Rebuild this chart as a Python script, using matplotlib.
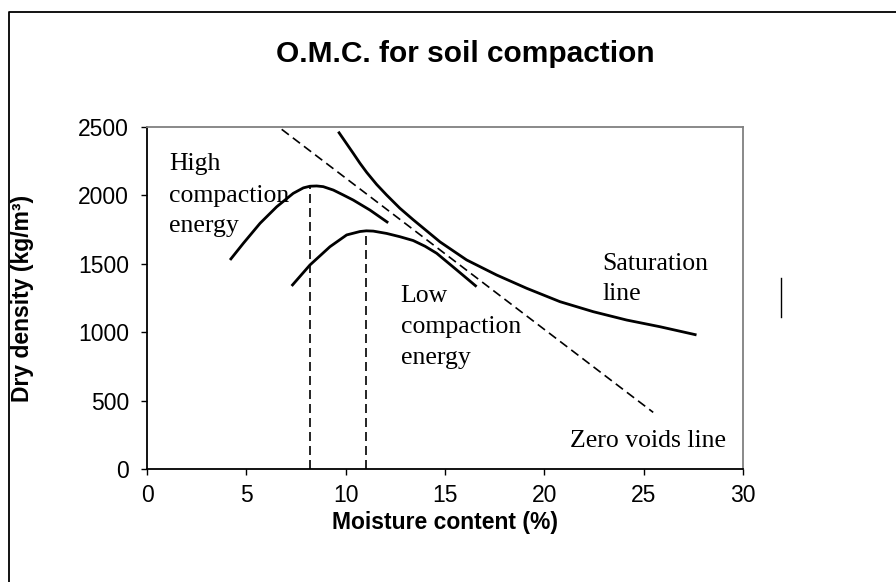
import matplotlib
matplotlib.use("Agg")
import matplotlib.pyplot as plt
from matplotlib.lines import Line2D

# ---- data ----
high_x = [4.18, 4.85, 5.69, 6.53, 7.36, 7.87, 8.20, 8.54, 8.87, 9.38, 9.88, 10.38, 11.22, 12.14]
high_y = [1528, 1650, 1796, 1917, 2015, 2055, 2067, 2069, 2064, 2039, 2003, 1966, 1893, 1800]

low_x = [7.28, 8.20, 9.21, 10.05, 10.72, 11.04, 11.39, 12.06, 12.73, 13.40, 14.00, 14.58, 15.59, 16.59]
low_y = [1338, 1491, 1625, 1711, 1736, 1741, 1739, 1722, 1698, 1670, 1628, 1577, 1455, 1333]

sat_x = [9.63, 10.38, 10.72, 11.06, 11.56, 12.06, 12.73, 13.40, 14.75, 16.09, 17.60,
         19.11, 20.79, 22.46, 24.14, 25.82, 27.66]
sat_y = [2466, 2308, 2235, 2168, 2080, 2003, 1906, 1822, 1660, 1528, 1418,
         1321, 1223, 1150, 1089, 1040, 980]

zero_x = [6.78, 25.48]
zero_y = [2483, 414]

omc_x = [8.22, 11.04]
omc_top = [2069, 1740]

x_ticks = [0, 5, 10, 15, 20, 25, 30]
y_ticks = [0, 500, 1000, 1500, 2000, 2500]

title = "O.M.C. for soil compaction"
xlabel = "Moisture content (%)"
ylabel = "Dry density (kg/m³)"

W, H = 896, 582
fig = plt.figure(figsize=(W / 100, H / 100), dpi=100)
ax = fig.add_axes([147 / W, 1 - 469 / H, (743 - 147) / W, (469 - 127) / H])

sans = "Liberation Sans"
serif = "Liberation Serif"

lw = 2.0
for xs, ys in [(high_x, high_y), (low_x, low_y), (sat_x, sat_y)]:
    ax.plot(xs, ys, color="black", lw=lw, solid_capstyle="butt",
            solid_joinstyle="round")
ax.plot(zero_x, zero_y, color="black", lw=1.2, dashes=(5.4, 3))
for xv, yv in zip(omc_x, omc_top):
    ax.plot([xv, xv], [0, yv], color="black", lw=1.2, dashes=(5.4, 3))

ax.set_xlim(0, 30)
ax.set_ylim(0, 2500)
ax.set_xticks(x_ticks)
ax.set_yticks(y_ticks)
ax.tick_params(direction="out", length=4.5, width=1, colors="black",
               labelsize=16.5)
ax.tick_params(axis="y", pad=8.5)
ax.tick_params(axis="x", pad=6)
for lab in ax.get_xticklabels() + ax.get_yticklabels():
    lab.set_family(sans)

for s in ["top", "right"]:
    ax.spines[s].set_color("#808080")
    ax.spines[s].set_linewidth(1.3)
for s in ["left", "bottom"]:
    ax.spines[s].set_color("black")
    ax.spines[s].set_linewidth(1.3)

ax.set_xlabel(xlabel, family=sans, fontweight="bold", fontsize=16.5, labelpad=3)
ax.set_ylabel(ylabel, family=sans, fontweight="bold", fontsize=16.5, labelpad=32)

fig.text(465 / W, 1 - 62 / H, title, family=sans, fontweight="bold",
         fontsize=21.5, ha="center", va="baseline")

fs = 18.5
for txt, yy in zip(["High", "compaction", "energy"], [2186, 1954, 1735]):
    ax.text(1.11, yy, txt, family=serif, fontsize=fs, va="baseline", ha="left")
for txt, yy in zip(["Low", "compaction", "energy"], [1221, 994, 768]):
    ax.text(12.77, yy, txt, family=serif, fontsize=fs, va="baseline", ha="left")
for txt, yy in zip(["Saturation", "line"], [1455, 1235]):
    ax.text(22.93, yy, txt, family=serif, fontsize=fs, va="baseline", ha="left")
ax.text(21.29, 161, "Zero voids line", family=serif, fontsize=fs,
        va="baseline", ha="left")

# outer frame (cropped) and stray mark
fig.add_artist(Line2D([9 / W, 9 / W, 1.0], [0.0, 1 - 12 / H, 1 - 12 / H],
                      transform=fig.transFigure, color="black", lw=1.3))
fig.add_artist(Line2D([781 / W, 781 / W], [1 - 278 / H, 1 - 317 / H],
                      transform=fig.transFigure, color="black", lw=1.0))

fig.savefig("out.png", dpi=100)
